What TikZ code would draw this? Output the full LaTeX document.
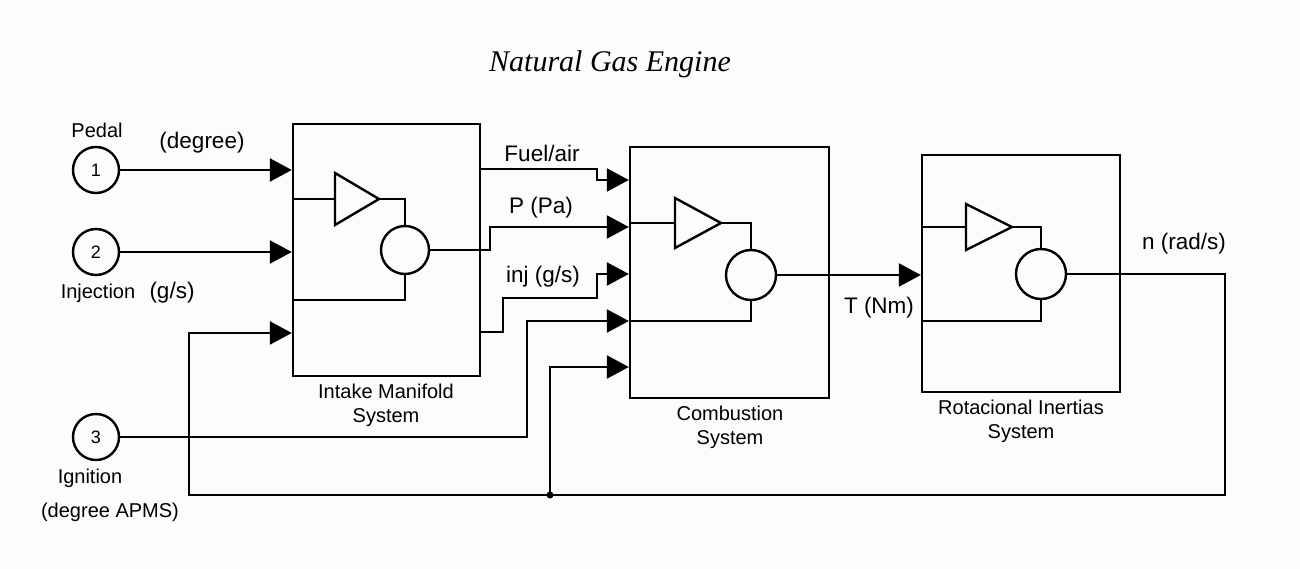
\documentclass[tikz,border=0pt]{standalone}
\usepackage{fontspec}
\setmainfont{Liberation Sans}
\newfontfamily\titlefont{Liberation Serif}
\usetikzlibrary{arrows.meta,calc}
\definecolor{bg}{RGB}{252,252,250}
\begin{document}
\begin{tikzpicture}[x=1pt,y=-1pt,
  wire/.style={line width=2.4pt,line cap=butt,line join=miter},
  arr/.style={wire,-{Triangle[length=22pt,width=23pt]}},
  blockbox/.style={draw,line width=2.4pt,rectangle,inner sep=0pt},
  port/.style={draw,line width=2.4pt,circle,minimum size=46pt,inner sep=0pt,font=\fontsize{18}{20}\selectfont},
  sumc/.style={draw,line width=2.4pt,circle,minimum size=50pt,inner sep=0pt},
  sig/.style={font=\fontsize{22.5}{26}\selectfont,inner sep=0pt},
  lab/.style={font=\fontsize{20}{23}\selectfont,inner sep=0pt,align=center},
  blab/.style={font=\fontsize{20}{24}\selectfont,inner sep=0pt,align=center}]
\fill[bg] (0,0) rectangle (1300,569);
\useasboundingbox (0,0) rectangle (1300,569);

% title
\node[font=\titlefont\itshape\fontsize{30}{33}\selectfont,inner sep=0pt] (title) at (610,64) {Natural Gas Engine};

% input ports
\node[port] (p1) at (96,170) {1};
\node[port] (p2) at (96,252) {2};
\node[port] (p3) at (96,437) {3};
\node[lab] (lpedal) at (97,130) {Pedal};
\node[sig] (ldeg) at (202,143) {(degree)};
\node[lab] (linj) at (98,293) {Injection};
\node[sig] (lgs) at (172,293) {(g/s)};
\node[lab] (lign) at (90,478) {Ignition};
\node[lab] (ldegapms) at (110,512) {(degree APMS)};

% blocks
\node[blockbox,minimum width=187pt,minimum height=252pt] (intake) at (386.5,250) {};
\node[blockbox,minimum width=199pt,minimum height=251pt] (comb) at (729.5,272.5) {};
\node[blockbox,minimum width=198pt,minimum height=237pt] (rot) at (1021,273.5) {};
\node[blab] (lintake) at (386,405) {Intake Manifold\\System};
\node[blab] (lcomb) at (730,427) {Combustion\\System};
\node[blab] (lrot) at (1021,421) {Rotacional Inertias\\System};

% internal triangles
\draw[wire] (335,173) -- (379,199) -- (335,225) -- cycle;
\coordinate (t1in) at (335,199); \coordinate (t1out) at (379,199);
\draw[wire] (675,198) -- (721,223) -- (675,248) -- cycle;
\coordinate (t2in) at (675,223); \coordinate (t2out) at (721,223);
\draw[wire] (966,204) -- (1012,227) -- (966,250) -- cycle;
\coordinate (t3in) at (966,227); \coordinate (t3out) at (1012,227);

% summing circles
\node[sumc,minimum size=48pt] (s1) at (405,250) {};
\node[sumc] (s2) at (751,275) {};
\node[sumc] (s3) at (1041,274) {};

% internal wiring
\draw[wire] (intake.west |- t1in) -- (t1in);
\draw[wire] (t1out) -| (s1.north);
\draw[wire] (s1.south) |- (intake.west |- 0,300);
\draw[wire] (comb.west |- t2in) -- (t2in);
\draw[wire] (t2out) -| (s2.north);
\draw[wire] (s2.south) |- (comb.west |- 0,321);
\draw[wire] (rot.west |- t3in) -- (t3in);
\draw[wire] (t3out) -| (s3.north);
\draw[wire] (s3.south) |- (rot.west |- 0,321);

% external wiring
\draw[arr] (p1.east) -- (intake.west |- p1.east);
\draw[arr] (p2.east) -- (intake.west |- p2.east);
\coordinate (junc) at (550,495);
\draw[arr] (s3.east) -- (1225,274) -- (1225,495) -- (189,495) -- (189,333) -- (intake.west |- 0,333);
\draw[arr] (junc) -- (550,367) -- (comb.west |- 0,367);
\fill (junc) circle (3.5pt);
\draw[arr] (s1.east) -- (490,250) -- (490,227) -- (comb.west |- 0,227);
\draw[arr] (intake.east |- 0,169) -- (597,169) -- (597,180) -- (comb.west |- 0,180);
\draw[arr] (intake.east |- 0,332) -- (503,332) -- (503,298) -- (597,298) -- (597,274) -- (comb.west |- 0,274);
\draw[arr] (p3.east) -- (527,437) -- (527,321) -- (comb.west |- 0,321);
\draw[arr] (s2.east) -- (rot.west |- s2.east);

% signal labels
\node[sig] (lfuel) at (542,153) {Fuel/air};
\node[sig] (lp) at (541,208) {P (Pa)};
\node[sig] (linjgs) at (543,277) {inj (g/s)};
\node[sig] (lt) at (879,308) {T (Nm)};
\node[sig] (ln) at (1184,244) {n (rad/s)};
\end{tikzpicture}
\end{document}
